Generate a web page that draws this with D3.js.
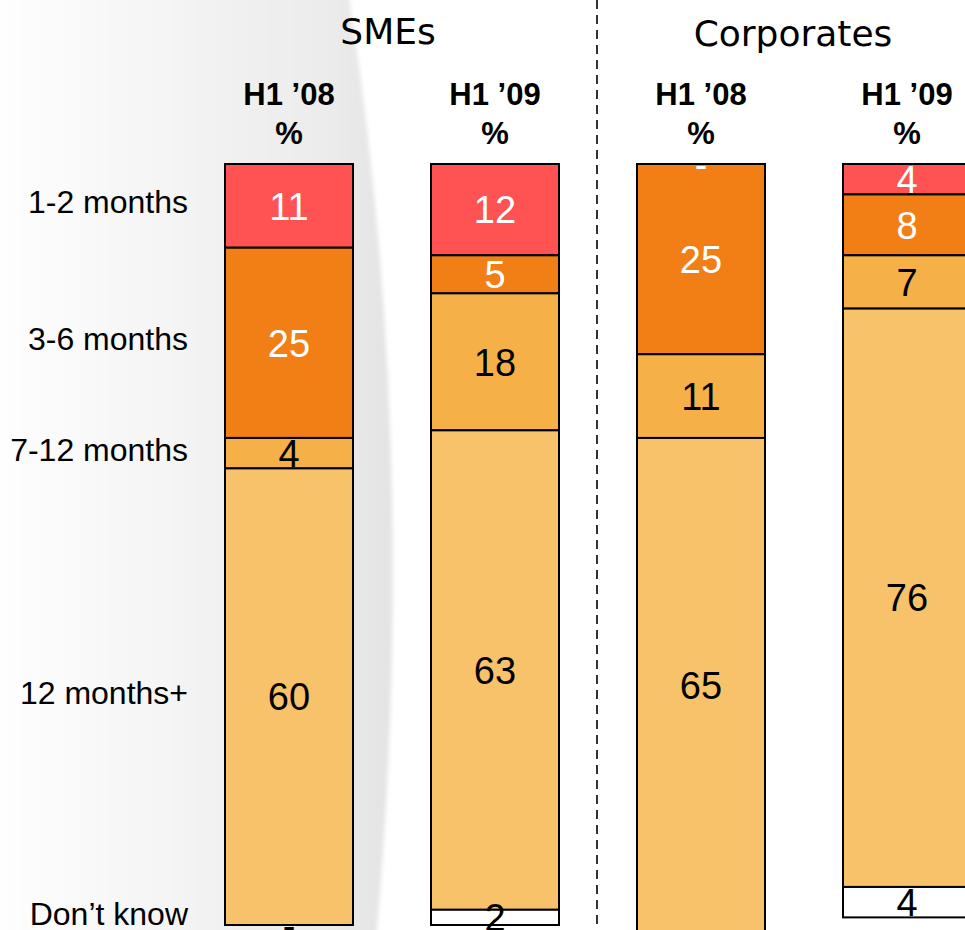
<!DOCTYPE html>
<html>
<head>
<meta charset="utf-8">
<script src="https://cdn.jsdelivr.net/npm/d3@7"></script>
<style>
  html, body { margin: 0; padding: 0; background: #fff; overflow: hidden; }
  svg { display: block; }
</style>
</head>
<body>
<div id="chart"></div>
<script>
// categories (stack order, top to bottom)
const categories = ["1-2 months", "3-6 months", "7-12 months", "12 months+", "Don\u2019t know"];
const groups = ["SMEs", "Corporates"];
const periods = ["H1 \u201908", "H1 \u201909", "H1 \u201908", "H1 \u201909"];

// values in %, one array per bar
const smes08 = [11, 25, 4, 60, 0];
const smes09 = [12, 5, 18, 63, 2];
const corp08 = [0, 25, 11, 65, 0];
const corp09 = [4, 8, 7, 76, 4];

const colors = ["#FF5252", "#F27E16", "#F5B147", "#F8C26A", "#FFFFFF"];
const textColors = ["#fff", "#fff", "#000", "#000", "#000"];

const bars = [smes08, smes09, corp08, corp09];

const width = 965, height = 930;

const svg = d3.select("#chart")
  .append("svg")
  .attr("width", width)
  .attr("height", height);

// soft grey shading on the left
const defs = svg.append("defs");
const grad = defs.append("linearGradient")
  .attr("id", "bgGrad")
  .attr("x1", "0%").attr("x2", "100%")
  .attr("y1", "0%").attr("y2", "0%");
grad.append("stop").attr("offset", "0%").attr("stop-color", "#fefefe");
grad.append("stop").attr("offset", "45%").attr("stop-color", "#f4f4f4");
grad.append("stop").attr("offset", "85%").attr("stop-color", "#ebebeb");
grad.append("stop").attr("offset", "100%").attr("stop-color", "#e3e3e3");

defs.append("filter")
  .attr("id", "soft")
  .attr("x", "-5%").attr("width", "110%")
  .append("feGaussianBlur")
  .attr("stdDeviation", 2);

svg.append("path")
  .attr("d", "M0,-10 L348,-10 Q420,450 376,940 L0,940 Z")
  .attr("fill", "url(#bgGrad)")
  .attr("filter", "url(#soft)");

const x = d3.scalePoint()
  .domain(d3.range(bars.length))
  .range([289, 907]);
const barW = 128;

const y = d3.scaleLinear()
  .domain([0, 100])
  .range([164, 925]);

// stack each bar
const stacked = bars.map((vals, i) => {
  let acc = 0;
  return vals.map((v, j) => {
    const seg = { bar: i, cat: j, v: v, y0: acc, y1: acc + v };
    acc += v;
    return seg;
  });
});

const barG = svg.selectAll("g.bar")
  .data(stacked)
  .join("g")
  .attr("class", "bar");

barG.selectAll("rect")
  .data(d => d.filter(s => s.v > 0))
  .join("rect")
  .attr("x", d => x(d.bar) - barW / 2)
  .attr("y", d => y(d.y0))
  .attr("width", barW)
  .attr("height", d => y(d.y1) - y(d.y0))
  .attr("fill", d => colors[d.cat])
  .attr("stroke", "#000")
  .attr("stroke-width", 2);

barG.selectAll("text")
  .data(d => d)
  .join("text")
  .attr("x", d => x(d.bar))
  .attr("y", d => (y(d.y0) + y(d.y1)) / 2)
  .attr("dy", "0.36em")
  .attr("text-anchor", "middle")
  .attr("font-family", "Liberation Sans, Arial, sans-serif")
  .attr("font-size", 38)
  .attr("fill", d => textColors[d.cat])
  .text(d => d.v === 0 ? "-" : d.v);

// row labels, aligned to first bar
svg.selectAll("text.rowlab")
  .data(stacked[0])
  .join("text")
  .attr("class", "rowlab")
  .attr("x", 188)
  .attr("y", d => Math.min((y(d.y0) + y(d.y1)) / 2 - 4, y(100) - 12))
  .attr("dy", "0.36em")
  .attr("text-anchor", "end")
  .attr("font-family", "Liberation Sans, Arial, sans-serif")
  .attr("font-size", 32)
  .attr("fill", "#000")
  .text((d, i) => categories[i]);

// column headers
const hdr = svg.selectAll("g.hdr")
  .data(periods)
  .join("g")
  .attr("class", "hdr")
  .attr("font-family", "Liberation Sans, Arial, sans-serif")
  .attr("font-weight", "bold")
  .attr("font-size", 31)
  .attr("text-anchor", "middle");

hdr.append("text")
  .attr("x", (d, i) => x(i))
  .attr("y", 105)
  .text(d => d);

hdr.append("text")
  .attr("x", (d, i) => x(i))
  .attr("y", 144)
  .text("%");

// group titles
svg.selectAll("text.group")
  .data(groups)
  .join("text")
  .attr("class", "group")
  .attr("x", (d, i) => i === 0 ? 388 : 793)
  .attr("y", (d, i) => i === 0 ? 44 : 46)
  .attr("text-anchor", "middle")
  .attr("font-family", "DejaVu Sans, Verdana, sans-serif")
  .attr("font-size", 36)
  .attr("fill", "#000")
  .text(d => d);

// dashed separator
svg.append("line")
  .attr("x1", 597).attr("x2", 597)
  .attr("y1", 0).attr("y2", height)
  .attr("stroke", "#333")
  .attr("stroke-width", 2)
  .attr("stroke-dasharray", "9,6");
</script>
</body>
</html>
